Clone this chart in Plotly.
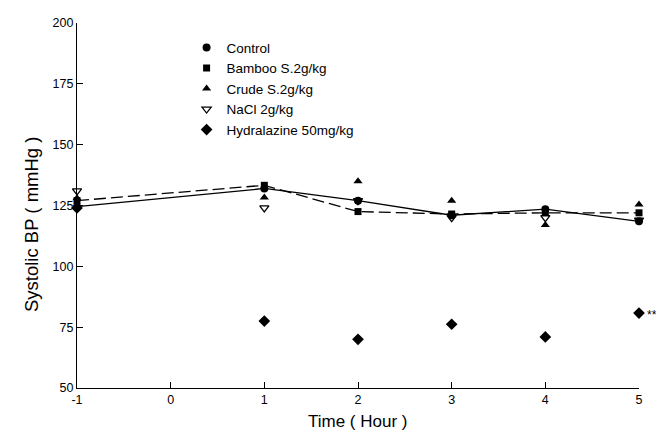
import plotly.graph_objects as go

hours = [-1, 1, 2, 3, 4, 5]
control = [124.5, 132, 127, 121, 123.5, 118.5]
bamboo = [127, 133.3, 122.5, 121.5, 122, 122]
crude = [128, 128.3, 135, 127, 117, 125.4]
nacl = [131, 124, 127, 120, 120, 119]
hydralazine = [124, 77.5, 70, 76.2, 71, 80.8]

names = ["Control", "Bamboo S.2g/kg", "Crude S.2g/kg", "NaCl 2g/kg", "Hydralazine 50mg/kg"]
x_ticks = [-1, 0, 1, 2, 3, 4, 5]
x_ticktext = ["-1", "0", "1", "2", "3", "4", "5"]
y_ticks = [50, 75, 100, 125, 150, 175, 200]

fig = go.Figure()
font = "Liberation Sans, Arial, sans-serif"

# connecting lines (not in legend)
fig.add_trace(go.Scatter(x=hours, y=control, mode="lines", showlegend=False,
                         line=dict(color="black", width=1.3, dash="solid")))
fig.add_trace(go.Scatter(x=hours, y=bamboo, mode="lines", showlegend=False,
                         line=dict(color="black", width=1.3, dash="12px,5px")))

fig.add_trace(go.Scatter(x=hours, y=control, name=names[0], mode="markers",
                         marker=dict(symbol="circle", size=8, color="black")))
fig.add_trace(go.Scatter(x=hours, y=bamboo, name=names[1], mode="markers",
                         marker=dict(symbol="square", size=7, color="black")))
fig.add_trace(go.Scatter(x=hours, y=crude, name=names[2], mode="markers",
                         marker=dict(symbol="triangle-up", size=8, color="black")))
fig.add_trace(go.Scatter(x=hours, y=nacl, name=names[3], mode="markers",
                         marker=dict(symbol="triangle-down-open", size=8, color="black",
                                     line=dict(width=1.3, color="black"))))
fig.add_trace(go.Scatter(x=hours, y=hydralazine, name=names[4], mode="markers",
                         marker=dict(symbol="diamond", size=9, color="black")))

fig.add_annotation(x=5, y=hydralazine[-1], text="**", showarrow=False, xanchor="left",
                   xshift=6, yshift=-2, font=dict(family=font, size=12, color="black"))

# axis titles
fig.add_annotation(xref="paper", yref="paper", x=-0.082, y=0.449, text="Systolic BP ( mmHg )",
                   textangle=-90, showarrow=False, xanchor="center", yanchor="middle",
                   font=dict(family=font, size=18.5, color="black"))
fig.add_annotation(xref="paper", yref="paper", x=0.5, y=-0.093, text="Time ( Hour )",
                   showarrow=False, xanchor="center", yanchor="middle",
                   font=dict(family=font, size=17, color="black"))

fig.update_layout(
    width=664, height=434,
    margin=dict(l=69, r=33, t=15, b=54, autoexpand=False),
    paper_bgcolor="white", plot_bgcolor="white",
    font=dict(family=font, color="black", size=12),
    showlegend=True,
    legend=dict(x=0.195, y=0.975, xanchor="left", yanchor="top",
                bgcolor="rgba(0,0,0,0)", font=dict(size=13.5, family=font),
                itemwidth=30, tracegroupgap=0),
)
fig.update_xaxes(range=[-1, 5], tickvals=x_ticks, ticktext=x_ticktext, ticks="inside", ticklen=6,
                 showline=True, linecolor="black", linewidth=1.2, showgrid=False,
                 zeroline=False, tickcolor="black", automargin=False,
                 tickfont=dict(size=12.5, family=font))
fig.update_yaxes(range=[50, 200], tickvals=y_ticks, ticks="inside", ticklen=6,
                 showline=True, linecolor="black", linewidth=1.2, showgrid=False,
                 zeroline=False, tickcolor="black", automargin=False,
                 tickfont=dict(size=12.5, family=font))
fig.update_traces(cliponaxis=False)

fig.write_html("out.html")
